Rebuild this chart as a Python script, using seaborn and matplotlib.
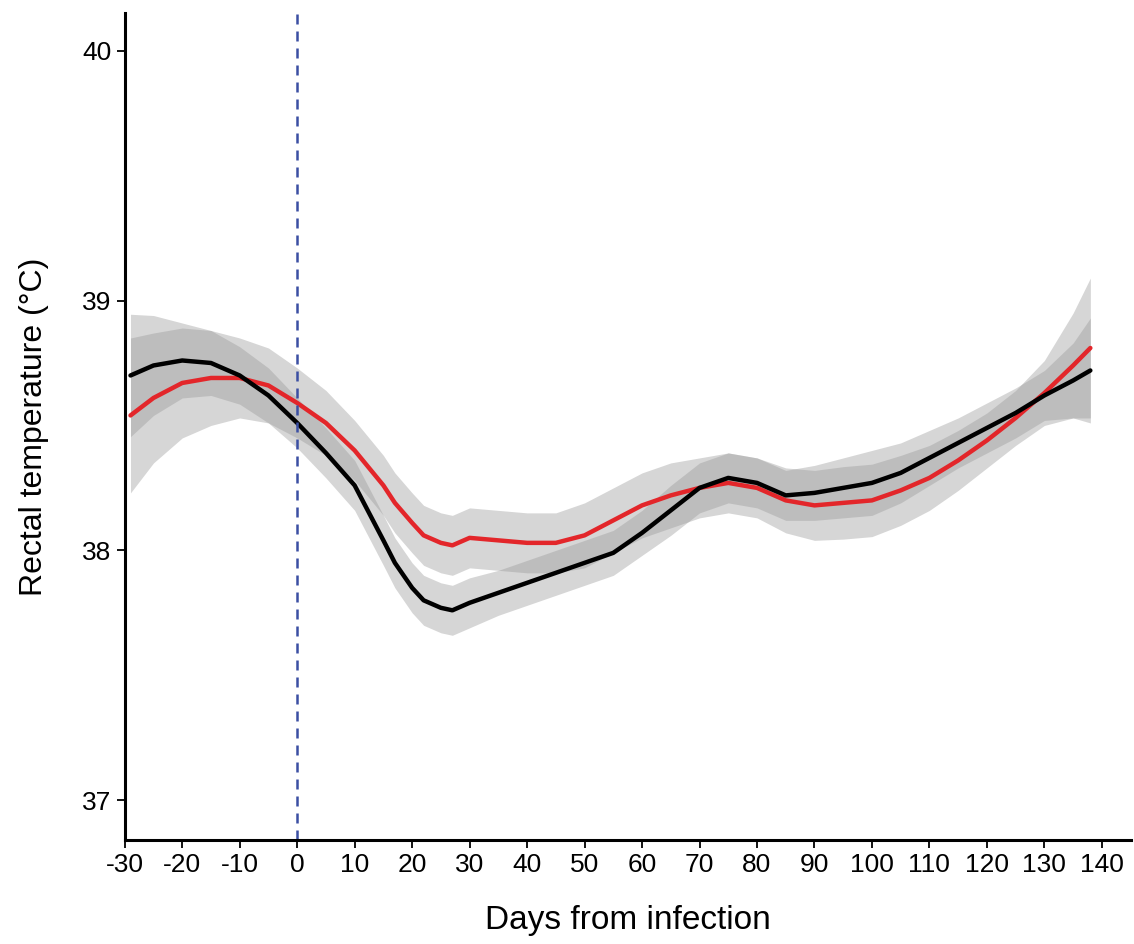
import matplotlib
matplotlib.use("Agg")
import matplotlib.pyplot as plt
import numpy as np
import pandas as pd
import seaborn as sns

# values (days from infection, rectal temperature in C)
days = [-29, -25, -20, -15, -10, -5, 0, 5, 10, 15, 17, 20, 22, 25, 27, 30, 35,
        40, 45, 50, 55, 60, 65, 70, 75, 80, 85, 90, 95, 100, 105, 110, 115,
        120, 125, 130, 135, 138]

black_temp = [38.70, 38.74, 38.76, 38.75, 38.70, 38.62, 38.51, 38.39, 38.26,
              38.04, 37.95, 37.85, 37.80, 37.77, 37.76, 37.79, 37.83, 37.87,
              37.91, 37.95, 37.99, 38.07, 38.16, 38.25, 38.29, 38.27, 38.22,
              38.23, 38.25, 38.27, 38.31, 38.37, 38.43, 38.49, 38.55, 38.62,
              38.68, 38.72]
black_ci = [0.245, 0.20, 0.15, 0.13, 0.115, 0.11, 0.10, 0.10, 0.10, 0.10, 0.10,
            0.10, 0.10, 0.10, 0.10, 0.10, 0.09, 0.09, 0.09, 0.09, 0.09, 0.09,
            0.10, 0.10, 0.10, 0.10, 0.10, 0.11, 0.12, 0.13, 0.12, 0.11, 0.10,
            0.10, 0.10, 0.10, 0.15, 0.21]

red_temp = [38.54, 38.61, 38.67, 38.69, 38.69, 38.66, 38.59, 38.51, 38.40,
            38.26, 38.19, 38.11, 38.06, 38.03, 38.02, 38.05, 38.04, 38.03,
            38.03, 38.06, 38.12, 38.18, 38.22, 38.25, 38.27, 38.25, 38.20,
            38.18, 38.19, 38.20, 38.24, 38.29, 38.36, 38.44, 38.53, 38.63,
            38.74, 38.81]
red_ci = [0.31, 0.26, 0.22, 0.19, 0.16, 0.15, 0.14, 0.13, 0.12, 0.12, 0.12,
          0.12, 0.12, 0.12, 0.12, 0.12, 0.12, 0.12, 0.12, 0.13, 0.13, 0.13,
          0.13, 0.12, 0.12, 0.12, 0.13, 0.14, 0.145, 0.145, 0.14, 0.13, 0.12,
          0.11, 0.11, 0.13, 0.21, 0.28]

x_ticks = list(range(-30, 141, 10))
y_ticks = [37, 38, 39, 40]

df = pd.DataFrame({
    "day": days * 2,
    "temp": red_temp + black_temp,
    "ci": red_ci + black_ci,
    "group": ["red"] * len(days) + ["black"] * len(days),
})

sns.set_style("ticks")
plt.rcParams["font.family"] = ["Liberation Sans", "DejaVu Sans"]
plt.rcParams["axes.unicode_minus"] = False
plt.rcParams["text.color"] = "black"
plt.rcParams["axes.labelcolor"] = "black"
plt.rcParams["xtick.color"] = "black"
plt.rcParams["ytick.color"] = "black"

fig = plt.figure(figsize=(11.34, 9.44), dpi=100)
ax = fig.add_axes([0.110, 0.110, 0.887, 0.876])

# confidence bands (grey60, alpha .4 like ggplot geom_smooth)
for g in ["red", "black"]:
    d = df[df["group"] == g]
    ax.fill_between(d["day"], d["temp"] - d["ci"], d["temp"] + d["ci"],
                    color="#999999", alpha=0.4, lw=0)

sns.lineplot(data=df, x="day", y="temp", hue="group",
             palette={"red": "#e3262a", "black": "black"},
             hue_order=["red", "black"], lw=3.2, legend=False, ax=ax,
             solid_joinstyle="round")

ax.axvline(0, color="#3b4fa3", lw=1.8, ls=(0, (4, 2.8)))

ax.set_xlim(-30, 145)
ax.set_ylim(36.84, 40.15)
ax.set_xticks(x_ticks)
ax.set_yticks(y_ticks)
ax.tick_params(labelsize=19, length=6, width=1.3, color="black",
               labelcolor="black")
sns.despine(ax=ax)
for s in ["left", "bottom"]:
    ax.spines[s].set_linewidth(2.2)
    ax.spines[s].set_color("black")

ax.set_xlabel("Days from infection", fontsize=24, labelpad=20)
ax.set_ylabel("Rectal temperature (\u00b0C)", fontsize=23, labelpad=24)

fig.savefig("out.png", dpi=100, facecolor="white")
